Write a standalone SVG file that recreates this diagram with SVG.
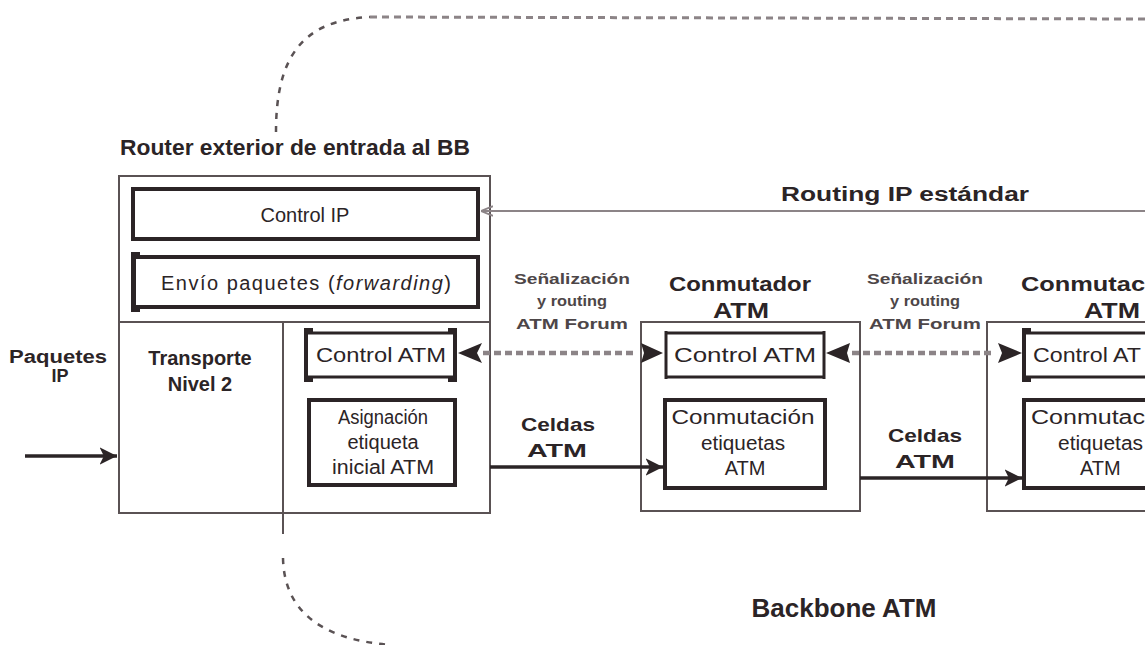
<svg xmlns="http://www.w3.org/2000/svg" width="1145" height="645" viewBox="0 0 1145 645">
  <style>
    text { font-family: "Liberation Sans", Arial, sans-serif; fill: #2b2426; }
    .t { font-size: 20px; text-anchor: middle; }
    .r { font-size: 20px; }
    .b { font-weight: bold; text-anchor: middle; }
    .sig { font-size: 15px; font-weight: bold; text-anchor: middle; fill: #4d4648; }
    .frame { fill: #fff; stroke: #5a5254; stroke-width: 2; }
    .thick { fill: #fff; stroke: #2b2426; stroke-width: 4; }
    .edge { stroke: #2b2426; stroke-width: 3; }
    .line { fill: none; stroke: #2b2426; stroke-width: 3.5; }
    .dash { fill: none; stroke: #8c8487; stroke-width: 4.5; stroke-dasharray: 7 4; }
    .curve { fill: none; stroke: #5a5254; stroke-width: 2.5; stroke-dasharray: 6 7; }
    .curve-h { fill: none; stroke: #8c8487; stroke-width: 3; stroke-dasharray: 7 5; }
    .bracket { fill: none; stroke: #2b2426; stroke-width: 4; }
  </style>
  <defs>
    <marker id="head" viewBox="0 0 10 10" refX="10" refY="5" markerWidth="5" markerHeight="5" orient="auto" markerUnits="strokeWidth">
      <path d="M0,0 L10,5 L0,10 L2.5,5 z" fill="#2b2426"/>
    </marker>
    <marker id="thin" viewBox="0 0 10 10" refX="10" refY="5" markerWidth="6" markerHeight="6" orient="auto" markerUnits="strokeWidth">
      <path d="M0,1 L10,5 L0,9" fill="none" stroke="#8c8487" stroke-width="1.5"/>
    </marker>
  </defs>

  <!-- backbone boundary -->
  <g id="backbone-boundary">
    <path class="curve" d="M276,132 C276,60 300,20 370,17"/>
    <path class="curve-h" d="M370,17 L1145,19"/>
    <path class="curve" d="M283,558 C284,610 320,640 392,645"/>
    <text class="b" x="844" y="617" font-size="26">Backbone ATM</text>
  </g>

  <!-- edge router -->
  <g id="router">
    <text class="b" x="295" y="155" font-size="22" textLength="350" lengthAdjust="spacingAndGlyphs">Router exterior de entrada al BB</text>
    <rect class="frame" x="119" y="176" width="371" height="337"/>
    <line x1="119" y1="322" x2="490" y2="322" stroke="#5a5254" stroke-width="2"/>
    <line x1="283" y1="322" x2="283" y2="534" stroke="#5a5254" stroke-width="2"/>
  </g>
  <g id="control-ip">
    <rect class="thick" x="133" y="189" width="345" height="50"/>
    <text class="t" x="305" y="222">Control IP</text>
  </g>
  <g id="forwarding">
    <rect class="thick" x="134" y="257" width="344" height="50"/>
    <path class="bracket" d="M140,254 L133,254 L133,310 L140,310"/>
    <text class="t" x="306" y="290" textLength="290" lengthAdjust="spacing">Envío paquetes (<tspan font-style="italic">forwarding</tspan>)</text>
  </g>
  <g id="transporte">
    <text class="b" x="200" y="365" font-size="20">Transporte</text>
    <text class="b" x="200" y="391" font-size="20">Nivel 2</text>
  </g>
  <g id="router-control-atm">
    <line class="edge" x1="308" y1="333" x2="453" y2="333"/>
    <line class="edge" x1="308" y1="377" x2="453" y2="377"/>
    <path class="bracket" d="M313,330 L306,330 L306,380 L313,380"/>
    <path class="bracket" d="M448,330 L455,330 L455,380 L448,380"/>
    <text class="t" x="381" y="362" textLength="130" lengthAdjust="spacingAndGlyphs">Control ATM</text>
  </g>
  <g id="asignacion">
    <rect class="thick" x="309" y="400" width="146" height="85"/>
    <text class="t" x="383" y="424" textLength="90" lengthAdjust="spacingAndGlyphs">Asignación</text>
    <text class="t" x="383" y="449">etiqueta</text>
    <text class="t" x="383" y="474" textLength="102" lengthAdjust="spacingAndGlyphs">inicial ATM</text>
  </g>

  <!-- ATM switch -->
  <g id="switch-1">
    <text class="b" x="740" y="291" font-size="21" textLength="142" lengthAdjust="spacingAndGlyphs">Conmutador</text>
    <text class="b" x="741" y="318" font-size="22" textLength="56" lengthAdjust="spacingAndGlyphs">ATM</text>
    <rect class="frame" x="641" y="322" width="219" height="189"/>
  </g>
  <g id="switch-1-control">
    <line class="edge" x1="666" y1="333" x2="825" y2="333"/>
    <line class="edge" x1="666" y1="377" x2="825" y2="377"/>
    <line class="edge" x1="666" y1="331" x2="666" y2="379"/>
    <line class="edge" x1="824" y1="331" x2="824" y2="379"/>
    <text class="t" x="745" y="362" textLength="142" lengthAdjust="spacingAndGlyphs">Control ATM</text>
  </g>
  <g id="switch-1-conmutacion">
    <rect class="thick" x="665" y="400" width="160" height="88"/>
    <text class="t" x="743" y="424" textLength="143" lengthAdjust="spacingAndGlyphs">Conmutación</text>
    <text class="t" x="743" y="450" textLength="84" lengthAdjust="spacingAndGlyphs">etiquetas</text>
    <text class="t" x="745" y="475">ATM</text>
  </g>

  <!-- next ATM switch -->
  <g id="switch-2">
    <text x="1021" y="291" font-size="21" font-weight="bold" textLength="124" lengthAdjust="spacingAndGlyphs">Conmutac</text>
    <text x="1084" y="318" font-size="22" font-weight="bold" textLength="56" lengthAdjust="spacingAndGlyphs">ATM</text>
    <path d="M1145,322 L987,322 L987,511 L1145,511" fill="#fff" stroke="#5a5254" stroke-width="2"/>
  </g>
  <g id="switch-2-control">
    <line class="edge" x1="1024" y1="333" x2="1145" y2="333"/>
    <line class="edge" x1="1024" y1="377" x2="1145" y2="377"/>
    <path class="bracket" d="M1031,330 L1024,330 L1024,380 L1031,380"/>
    <text class="r" x="1033" y="362" textLength="108" lengthAdjust="spacingAndGlyphs">Control AT</text>
  </g>
  <g id="switch-2-conmutacion">
    <path d="M1145,400 L1024,400 L1024,488 L1145,488" fill="#fff" stroke="#2b2426" stroke-width="4"/>
    <text class="r" x="1031" y="424" textLength="114" lengthAdjust="spacingAndGlyphs">Conmutac</text>
    <text class="r" x="1058" y="450" textLength="85" lengthAdjust="spacingAndGlyphs">etiquetas</text>
    <text class="r" x="1080" y="475">ATM</text>
  </g>

  <!-- labels on links -->
  <g id="labels">
    <text class="b" x="905" y="201" font-size="20" textLength="248" lengthAdjust="spacingAndGlyphs">Routing IP estándar</text>
    <text class="b" x="58" y="363" font-size="18" textLength="98" lengthAdjust="spacingAndGlyphs">Paquetes</text>
    <text class="b" x="60" y="382" font-size="18">IP</text>
    <text class="sig" x="572" y="284" textLength="116" lengthAdjust="spacingAndGlyphs">Señalización</text>
    <text class="sig" x="572" y="306" textLength="70" lengthAdjust="spacingAndGlyphs">y routing</text>
    <text class="sig" x="572" y="329" textLength="112" lengthAdjust="spacingAndGlyphs">ATM Forum</text>
    <text class="sig" x="925" y="284" textLength="116" lengthAdjust="spacingAndGlyphs">Señalización</text>
    <text class="sig" x="925" y="306" textLength="70" lengthAdjust="spacingAndGlyphs">y routing</text>
    <text class="sig" x="925" y="329" textLength="112" lengthAdjust="spacingAndGlyphs">ATM Forum</text>
    <text class="b" x="558" y="431" font-size="19" textLength="74" lengthAdjust="spacingAndGlyphs">Celdas</text>
    <text class="b" x="557" y="457" font-size="19" textLength="60" lengthAdjust="spacingAndGlyphs">ATM</text>
    <text class="b" x="925" y="442" font-size="19" textLength="74" lengthAdjust="spacingAndGlyphs">Celdas</text>
    <text class="b" x="925" y="468" font-size="19" textLength="60" lengthAdjust="spacingAndGlyphs">ATM</text>
  </g>

  <!-- connectors -->
  <g id="connectors">
    <line x1="1145" y1="211" x2="481" y2="211" stroke="#8c8487" stroke-width="2" marker-end="url(#thin)"/>
    <line class="line" x1="25" y1="456" x2="117" y2="456" marker-end="url(#head)"/>
    <line class="line" x1="490" y1="467" x2="663" y2="467" marker-end="url(#head)"/>
    <line class="line" x1="860" y1="478" x2="1022" y2="478" marker-end="url(#head)"/>
    <line class="dash" x1="483" y1="353" x2="637" y2="353"/>
    <path d="M458,353 L482,343 L477,353 L482,363 z" fill="#2b2426"/>
    <path d="M663,353 L641,343 L644,353 L641,363 z" fill="#2b2426"/>
    <line class="dash" x1="852" y1="353" x2="994" y2="353"/>
    <path d="M826,353 L850,343 L847,353 L850,363 z" fill="#2b2426"/>
    <path d="M1022,353 L998,343 L1002,353 L998,363 z" fill="#2b2426"/>
  </g>
</svg>
